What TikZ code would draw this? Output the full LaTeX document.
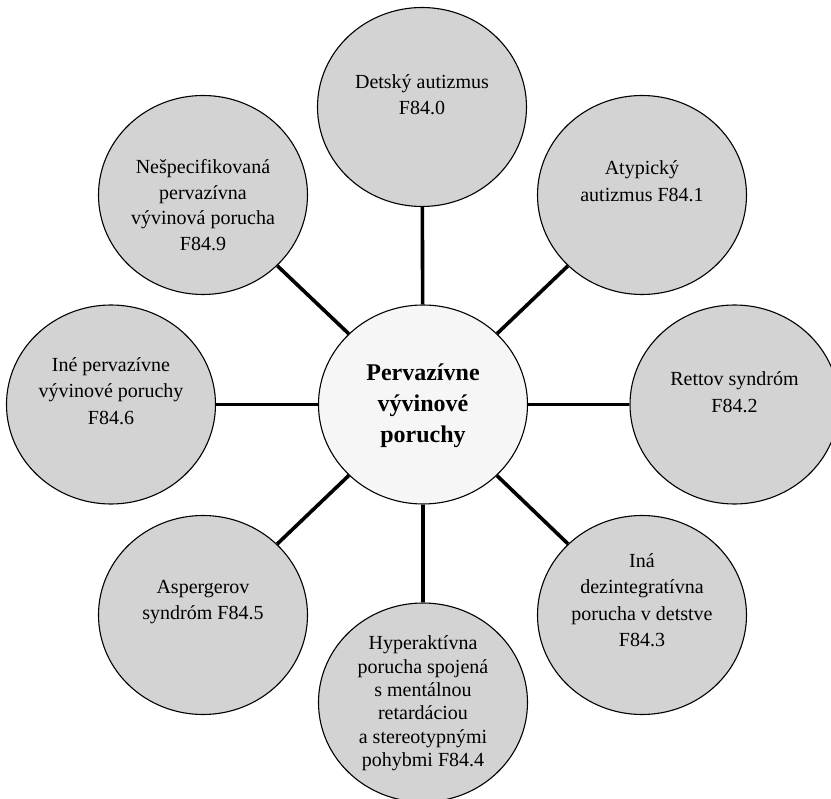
\documentclass[tikz,border=0pt]{standalone}
\usepackage{fontspec}
\setmainfont{Liberation Serif}
\usetikzlibrary{shapes.geometric}
\definecolor{leafgray}{RGB}{211,211,211}
\definecolor{hubgray}{RGB}{246,246,246}

\begin{document}
\begin{tikzpicture}[x=1pt, y=-1pt,
    leaf/.style={ellipse, draw, line width=1.1pt, fill=leafgray, minimum width=209pt, minimum height=199pt, inner sep=0pt},
    hub/.style={leaf, fill=hubgray},
    txt/.style={align=center, font=\fontsize{20}{26.5}\selectfont},
    link/.style={line width=3.6pt}]

        \useasboundingbox (0,0) rectangle (831,799);

        % --- kruhy ---
        \node[hub]  (c)  at (423,404.5) {};
        \node[leaf] (n0) at (422,107) {};
        \node[leaf] (n1) at (642,195) {};
        \node[leaf] (n2) at (734.5,404.5) {};
        \node[leaf] (n3) at (642,615) {};
        \node[leaf] (n4) at (423,702.5) {};
        \node[leaf] (n5) at (203,615) {};
        \node[leaf] (n6) at (111,404.5) {};
        \node[leaf] (n7) at (203,195) {};

        % --- spojnice ---
        \foreach \i in {0,...,7}
            \draw[link] (c) -- (n\i);

        % --- texty ---
        \node[align=center, font=\fontsize{24}{31}\selectfont\bfseries] (tc) at (423,406) {Pervazívne\\vývinové\\poruchy};
        \node[txt] (t0) at (422,94.5) {Detský autizmus\\F84.0};
        \node[txt] (t1) at (642,181) {Atypický\\autizmus F84.1};
        \node[txt] (t2) at (734.5,392) {Rettov syndróm\\F84.2};
        \node[txt] (t3) at (642,600) {Iná\\dezintegratívna\\porucha v detstve\\F84.3};
        \node[txt, font=\fontsize{20}{23.4}\selectfont] (t4) at (423,703.5) {Hyperaktívna\\porucha spojená\\s mentálnou\\retardáciou\\a stereotypnými\\pohybmi F84.4};
        \node[txt] (t5) at (203,602) {Aspergerov\\syndróm F84.5};
        \node[txt] (t6) at (111,391) {Iné pervazívne\\vývinové poruchy\\F84.6};
        \node[txt, font=\fontsize{20}{25.5}\selectfont] (t7) at (203,205) {Nešpecifikovaná\\pervazívna\\vývinová porucha\\F84.9};
    \end{tikzpicture}
\end{document}
